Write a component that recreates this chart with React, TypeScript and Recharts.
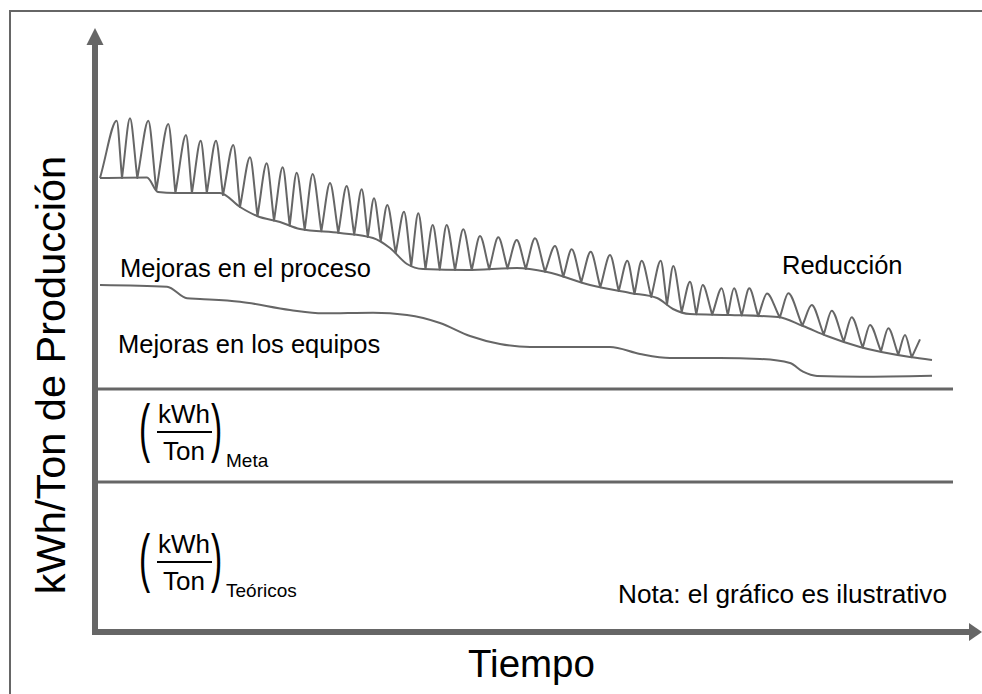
import React from 'react';
import { LineChart, Line, XAxis, YAxis, ReferenceLine, ReferenceDot } from 'recharts';

const FONT = '"Liberation Sans", Arial, Helvetica, sans-serif';
const GRAY = '#666666';

// Tiempo (x) vs kWh/Ton (y), unidades ilustrativas
const reduccion: [number, number][] = [
  [0.5, 45.4], [2.17, 51.13], [2.7, 45.4], [3.5, 51.37], [4.23, 45.4], [5.33, 51.13],
  [6.13, 44.2], [7.33, 50.8], [8.04, 43.9], [9.1, 49.7], [9.69, 43.9], [10.57, 49.13],
  [11.18, 43.9], [12.1, 49.13], [12.8, 43.7], [13.83, 48.7], [14.5, 42.5], [15.5, 47.47],
  [16.25, 41.6], [17.17, 46.87], [17.9, 41.15], [18.77, 46.47], [19.47, 40.65], [20.17, 45.93],
  [20.97, 40.23], [21.77, 45.8], [22.63, 40.08], [23.5, 44.9], [24.33, 39.92], [25.17, 44.6],
  [25.92, 39.73], [26.67, 44.27], [27.28, 39.5], [27.9, 43.37], [28.57, 39.1], [29.23, 42.7],
  [30.07, 37.9], [30.9, 42.03], [31.62, 36.6], [32.33, 41.87], [33.05, 36.3], [33.77, 40.7],
  [34.47, 36.24], [35.17, 40.7], [36.0, 36.2], [36.83, 40.27], [37.67, 36.2], [38.5, 39.6],
  [39.42, 36.28], [40.33, 39.47], [41.25, 36.36], [42.17, 39.2], [43.08, 36.3], [44.0, 39.37],
  [45.0, 36.02], [46.0, 38.6], [46.83, 35.52], [47.67, 38.27], [48.62, 34.97], [49.57, 38.03],
  [50.53, 34.47], [51.5, 37.7], [52.37, 34.1], [53.23, 37.13], [53.95, 33.8], [54.67, 37.13],
  [55.62, 33.5], [56.57, 37.13], [57.2, 32.75], [57.83, 36.6], [58.67, 32.0], [59.5, 35.03],
  [60.13, 31.77], [60.77, 34.7], [61.72, 31.74], [62.67, 34.37], [63.28, 31.7], [63.9, 34.37],
  [64.67, 31.65], [65.43, 34.37], [66.32, 31.58], [67.2, 33.85], [68.48, 31.45], [69.33, 33.87],
  [70.73, 30.63], [71.67, 32.7], [72.87, 29.75], [73.67, 32.13], [74.87, 29.05], [75.67, 31.47],
  [76.77, 28.45], [77.5, 30.7], [78.6, 28.07], [79.33, 30.37], [80.33, 27.73], [81.0, 29.7],
  [81.67, 27.47], [82.5, 29.27],
];

const mejorasProceso: [number, number][] = [
  [0.5, 45.4], [5.2, 45.45], [6.3, 44.0], [8.0, 43.9], [12.5, 43.9], [14.5, 42.5],
  [16.2, 41.6], [18.5, 41.0], [20.5, 40.3], [24.5, 39.9], [27.8, 39.4], [29.5, 38.4],
  [31.2, 36.8], [32.8, 36.3], [37.2, 36.2], [42.2, 36.4], [45.2, 36.0], [49.5, 34.7],
  [53.5, 33.9], [56.2, 33.4], [57.8, 32.3], [59.5, 31.8], [63.5, 31.7], [68.3, 31.5],
  [70.8, 30.6], [73.2, 29.6], [76.5, 28.5], [81.5, 27.5], [83.7, 27.2],
];

const mejorasEquipos: [number, number][] = [
  [0.5, 34.7], [7.2, 34.53], [9.2, 33.37], [10.5, 33.3], [14.5, 33.03], [19.5, 32.2],
  [22.8, 31.87], [27.8, 31.93], [31.2, 31.7], [34.5, 30.9], [37.5, 29.6], [40.5, 28.8],
  [43.5, 28.5], [48.5, 28.5], [51.5, 28.5], [54.5, 27.8], [57.5, 27.4], [62.5, 27.4],
  [66.5, 27.3], [69.5, 26.9], [70.8, 26.03], [72.2, 25.6], [76.5, 25.53], [83.7, 25.63],
];

const nivelMeta = 24.3;
const nivelTeorico = 15.0;
const nivelesDesde = 0.2;
const nivelesHasta = 85.8;
const ejeXMax = 88.7;
const ejeYMax = 60.4;
const ejeXFin = 87.4;
const ejeYFin = 58.7;

const toRows = (pts: [number, number][]) => pts.map(([x, y]) => ({ x, y }));

// curva: picos redondeados, valles agudos
function spikeCurve(context: any) {
  let pts: [number, number][] = [];
  return {
    areaStart() {},
    areaEnd() {},
    lineStart() {
      pts = [];
    },
    point(x: number, y: number) {
      pts.push([+x, +y]);
    },
    lineEnd() {
      if (!pts.length) return;
      const n = pts.length;
      const isPeak = (i: number) =>
        i > 0 && i < n - 1 && pts[i][1] < pts[i - 1][1] && pts[i][1] < pts[i + 1][1];
      context.moveTo(pts[0][0], pts[0][1]);
      for (let i = 1; i < n; i++) {
        const [x0, y0] = pts[i - 1];
        const [x1, y1] = pts[i];
        const dx = x1 - x0;
        const dy = y1 - y0;
        let c1x, c1y, c2x, c2y;
        if (isPeak(i - 1)) {
          c1x = x0 + dx * 0.3;
          c1y = y0;
        } else {
          c1x = x0 + dx * 0.4;
          c1y = y0 + dy * 0.4;
        }
        if (isPeak(i)) {
          c2x = x1 - dx * 0.3;
          c2y = y1;
        } else {
          c2x = x1 - dx * 0.4;
          c2y = y1 - dy * 0.4;
        }
        context.bezierCurveTo(c1x, c1y, c2x, c2y, x1, y1);
      }
    },
  };
}

const UpArrow = (props: any) => {
  const { cx, cy } = props;
  return <polygon points={`${cx},${cy} ${cx - 8.5},${cy + 17} ${cx + 8.5},${cy + 17}`} fill={GRAY} />;
};
const RightArrow = (props: any) => {
  const { cx, cy } = props;
  return <polygon points={`${cx},${cy} ${cx - 13},${cy - 9} ${cx - 13},${cy + 9}`} fill={GRAY} />;
};

const Fraction = ({ top, sub }: { top: number; sub: string }) => (
  <g fontFamily={FONT} fill="#000">
    <text transform={`translate(139, ${top + 27}) scale(1.2, 2.3)`} fontSize={28}>(</text>
    <text transform={`translate(211, ${top + 27}) scale(1.2, 2.3)`} fontSize={28}>)</text>
    <text x={184} y={top} fontSize={26} textAnchor="middle">kWh</text>
    <line x1={157} x2={212} y1={top + 9} y2={top + 9} stroke="#000" strokeWidth={2} />
    <text x={184} y={top + 37} fontSize={26} textAnchor="middle">Ton</text>
    <text x={226} y={top + 44} fontSize={19}>{sub}</text>
  </g>
);

const Annotations = () => (
  <g fontFamily={FONT} fill="#000">
    <text transform="translate(65, 375) rotate(-90)" fontSize={41.5} textAnchor="middle">
      kWh/Ton de Producción
    </text>
    <text x={468} y={677} fontSize={38.5}>Tiempo</text>
    <text x={120} y={277} fontSize={25.5}>Mejoras en el proceso</text>
    <text x={118} y={353} fontSize={25.5}>Mejoras en los equipos</text>
    <text x={782} y={274} fontSize={25.5}>Reducción</text>
    <text x={618} y={603} fontSize={26.2}>Nota: el gráfico es ilustrativo</text>
    <Fraction top={423} sub="Meta" />
    <Fraction top={553} sub="Teóricos" />
  </g>
);

export default function App() {
  return (
    <div style={{ position: 'absolute', left: 0, top: 0, width: 982, height: 694, background: '#fff' }}>
      <div
        style={{
          position: 'absolute',
          left: 9,
          top: 10,
          width: 980,
          height: 690,
          borderTop: `2px solid ${GRAY}`,
          borderLeft: `2px solid ${GRAY}`,
        }}
      />
      <div style={{ position: 'absolute', left: 0, top: 0 }}>
        <LineChart width={982} height={694} margin={{ top: 28, right: 0, bottom: 62, left: 95 }}>
          <XAxis type="number" dataKey="x" domain={[0, ejeXMax]} hide allowDataOverflow />
          <YAxis type="number" dataKey="y" domain={[0, ejeYMax]} hide allowDataOverflow />
          <ReferenceLine
            segment={[{ x: nivelesDesde, y: nivelMeta }, { x: nivelesHasta, y: nivelMeta }]}
            stroke={GRAY}
            strokeWidth={3}
            ifOverflow="visible"
          />
          <ReferenceLine
            segment={[{ x: nivelesDesde, y: nivelTeorico }, { x: nivelesHasta, y: nivelTeorico }]}
            stroke={GRAY}
            strokeWidth={3}
            ifOverflow="visible"
          />
          <Line
            data={toRows(mejorasEquipos)}
            dataKey="y"
            type="monotone"
            stroke={GRAY}
            strokeWidth={2}
            dot={false}
            activeDot={false}
            isAnimationActive={false}
          />
          <Line
            data={toRows(mejorasProceso)}
            dataKey="y"
            type="monotone"
            stroke={GRAY}
            strokeWidth={2}
            dot={false}
            activeDot={false}
            isAnimationActive={false}
          />
          <Line
            data={toRows(reduccion)}
            dataKey="y"
            type={spikeCurve as any}
            stroke={GRAY}
            strokeWidth={2}
            strokeLinejoin="round"
            dot={false}
            activeDot={false}
            isAnimationActive={false}
          />
          <ReferenceLine
            segment={[{ x: 0, y: 0 }, { x: 0, y: ejeYFin }]}
            stroke={GRAY}
            strokeWidth={6}
            ifOverflow="visible"
          />
          <ReferenceLine
            segment={[{ x: -0.3, y: 0 }, { x: ejeXFin, y: 0 }]}
            stroke={GRAY}
            strokeWidth={6}
            ifOverflow="visible"
          />
          <ReferenceDot x={0} y={ejeYMax} r={1} shape={UpArrow} ifOverflow="visible" />
          <ReferenceDot x={ejeXMax} y={0} r={1} shape={RightArrow} ifOverflow="visible" />
          <Annotations />
        </LineChart>
      </div>
    </div>
  );
}
